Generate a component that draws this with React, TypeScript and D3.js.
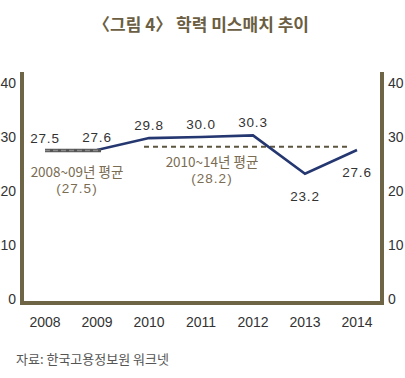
import React from "react";
import * as d3 from "d3";

const years = ["2008", "2009", "2010", "2011", "2012", "2013", "2014"];
const values = [27.5, 27.6, 29.8, 30.0, 30.3, 23.2, 27.6];
const yTicks = [0, 10, 20, 30, 40];
const avg0809 = 27.5;
const avg1014 = 28.2;
const title = "〈그림 4〉 학력 미스매치 추이";
const source = "자료: 한국고용정보원 워크넷";
const avgLabel1 = ["2008~09년 평균", "(27.5)"];
const avgLabel2 = ["2010~14년 평균", "(28.2)"];

const W = 405;
const H = 378;
const FONT = "'Liberation Sans', 'Noto Sans CJK KR', sans-serif";
const KFONT = "'Noto Sans CJK KR', 'Liberation Sans', sans-serif";
const frameColor = "#6e6446";

export default function App() {
  const x = d3.scalePoint<string>().domain(years).range([45, 357]);
  const y = d3.scaleLinear().domain([0, 40]).range([299, 83]);
  const line = d3
    .line<number>()
    .x((_, i) => x(years[i]) as number)
    .y((d) => y(d));

  const left = 22;
  const right = 382;
  const top = 72;
  const bottom = 303;

  return (
    <svg
      width={W}
      height={H}
      style={{ position: "absolute", left: 0, top: 0, background: "#fff" }}
    >
      <text
        x={201}
        y={31}
        textAnchor="middle"
        fontFamily={KFONT}
        fontSize={17}
        fontWeight="bold"
        fill="#6b5e42"
      >
        {title}
      </text>

      {/* frame */}
      <path
        d={`M${left},${top} L${left},${bottom} L${right},${bottom} L${right},${top}`}
        fill="none"
        stroke={frameColor}
        strokeWidth={4}
      />

      {/* y ticks left and right */}
      {yTicks.map((t) => (
        <g key={t}>
          <text
            x={16}
            y={y(t) + 5}
            textAnchor="end"
            fontFamily={FONT}
            fontSize={14}
            fill="#333"
          >
            {t}
          </text>
          <text
            x={388}
            y={y(t) + 5}
            textAnchor="start"
            fontFamily={FONT}
            fontSize={14}
            fill="#333"
          >
            {t}
          </text>
        </g>
      ))}

      {/* x labels */}
      {years.map((yr) => (
        <text
          key={yr}
          x={x(yr)}
          y={327}
          textAnchor="middle"
          fontFamily={FONT}
          fontSize={14}
          fill="#333"
        >
          {yr}
        </text>
      ))}

      {/* 2010-14 average dashed line */}
      <line
        x1={(x("2010") as number) - 5}
        x2={(x("2014") as number) - 7}
        y1={y(avg1014)}
        y2={y(avg1014)}
        stroke="#5e5540"
        strokeWidth={2}
        strokeDasharray="5,4"
      />

      {/* data line */}
      <path
        d={line(values) || ""}
        fill="none"
        stroke="#253770"
        strokeWidth={2.6}
        strokeLinejoin="miter"
      />

      {/* 2008-09 average overlay */}
      <line
        x1={x("2008")}
        x2={(x("2009") as number) + 4}
        y1={y(avg0809)}
        y2={y(avg0809)}
        stroke="#555"
        strokeWidth={3.4}
      />
      <line
        x1={x("2008")}
        x2={(x("2009") as number) + 4}
        y1={y(avg0809)}
        y2={y(avg0809)}
        stroke="#8a8a8a"
        strokeWidth={1.4}
        strokeDasharray="5,3"
      />

      {/* data labels */}
      {values.map((v, i) => {
        const below = i === 5;
        const side = i === 6;
        const yy = below ? y(v) + 27 : side ? y(v) + 27 : y(v) - 8;
        return (
          <text
            key={i}
            x={x(years[i])}
            y={yy}
            textAnchor="middle"
            fontFamily={FONT}
            fontSize={13.5}
            fill="#333"
            letterSpacing={0.8}
          >
            {v.toFixed(1)}
          </text>
        );
      })}

      {/* average annotations */}
      {[
        { lines: avgLabel1, cx: 77, by: 177 },
        { lines: avgLabel2, cx: 212, by: 167 },
      ].map((a) => (
        <g key={a.lines[0]}>
          <text
            x={a.cx}
            y={a.by}
            textAnchor="middle"
            fontFamily={KFONT}
            fontSize={13.5}
            fill="#7a6c52"
          >
            {a.lines[0]}
          </text>
          <text
            x={a.cx}
            y={a.by + 16}
            textAnchor="middle"
            fontFamily={FONT}
            fontSize={13.5}
            fill="#7a6c52"
            letterSpacing={1}
          >
            {a.lines[1]}
          </text>
        </g>
      ))}

      <text
        x={16}
        y={364}
        fontFamily={KFONT}
        fontSize={13}
        fill="#555"
      >
        {source}
      </text>
    </svg>
  );
}
